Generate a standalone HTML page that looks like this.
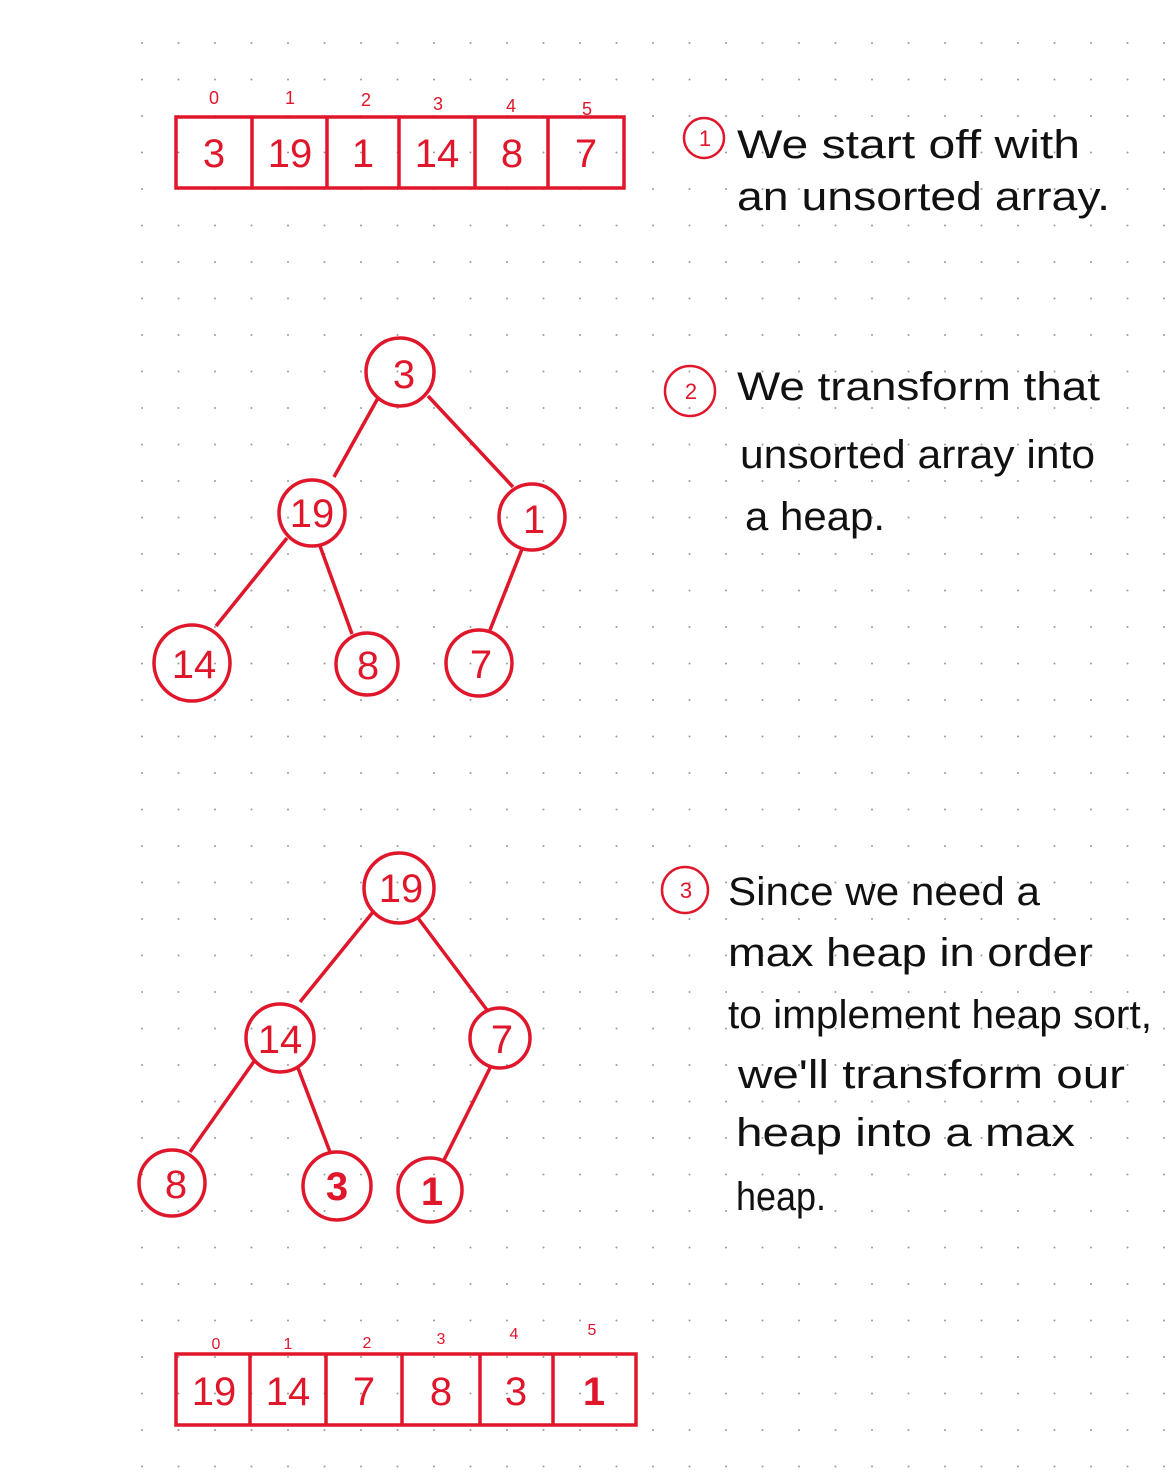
<!DOCTYPE html>
<html><head><meta charset="utf-8"><style>
html,body{margin:0;padding:0;background:#fff;}
svg{display:block;}
.h{font-family:"Liberation Sans",sans-serif;fill:#111;font-size:40px;}
.n{font-family:"Liberation Sans",sans-serif;fill:#e0162b;text-anchor:middle;}
</style></head><body>
<svg width="1170" height="1472" viewBox="0 0 1170 1472" xmlns="http://www.w3.org/2000/svg">
<defs><pattern id="d" x="141" y="42" width="36.5" height="36.5" patternUnits="userSpaceOnUse"><circle cx="1" cy="1" r="1" fill="#9a9a9a"/></pattern></defs>
<rect x="130" y="30" width="1040" height="1442" fill="url(#d)"/>
<g stroke="#e0162b" stroke-width="3.5" fill="none">
<rect x="176" y="117" width="448" height="71"/>
<path d="M252 117V188M327 117V188M399 117V188M475 117V188M548 117V188"/>
<rect x="176" y="1354" width="460" height="71"/>
<path d="M250 1354V1425M326 1354V1425M402 1354V1425M480 1354V1425M553 1354V1425"/>
<circle cx="400" cy="372" r="34"/><circle cx="312" cy="513" r="33"/><circle cx="532" cy="517" r="33"/>
<circle cx="192" cy="663" r="38"/><circle cx="367" cy="664" r="31"/><circle cx="479" cy="663" r="33"/>
<path d="M378 398L334 477M428 396L513 487M287 538L216 626M320 546L352 634M522 549L490 630"/>
<circle cx="399" cy="888" r="35"/><circle cx="280" cy="1038" r="34"/><circle cx="500" cy="1038" r="30"/>
<circle cx="172" cy="1183" r="33"/><circle cx="337" cy="1186" r="34"/><circle cx="430" cy="1190" r="32"/>
<path d="M373 912L300 1002M418 918L487 1010M255 1060L190 1152M298 1068L330 1152M490 1068L444 1160"/>
<circle cx="704" cy="138" r="20" stroke-width="2.5"/><circle cx="690" cy="391" r="25" stroke-width="2.5"/><circle cx="685" cy="890" r="23" stroke-width="2.5"/>
</g>
<g class="n" font-size="18"><text x="214" y="104">0</text><text x="290" y="104">1</text><text x="366" y="106">2</text><text x="438" y="110">3</text><text x="511" y="112">4</text><text x="587" y="115">5</text></g>
<g class="n" font-size="16"><text x="216" y="1349">0</text><text x="288" y="1349">1</text><text x="367" y="1348">2</text><text x="441" y="1344">3</text><text x="514" y="1339">4</text><text x="592" y="1335">5</text></g>
<g class="n" font-size="40">
<text x="214" y="167">3</text><text x="290" y="167">19</text><text x="363" y="167">1</text><text x="437" y="167">14</text><text x="512" y="167">8</text><text x="586" y="167">7</text>
<text x="214" y="1405">19</text><text x="288" y="1405">14</text><text x="364" y="1405">7</text><text x="441" y="1405">8</text><text x="516" y="1405">3</text><text x="594" y="1405" font-weight="bold">1</text>
<text x="404" y="388">3</text><text x="312" y="527">19</text><text x="534" y="533">1</text><text x="194" y="678">14</text><text x="368" y="679">8</text><text x="481" y="678">7</text>
<text x="401" y="902">19</text><text x="280" y="1053">14</text><text x="502" y="1053">7</text><text x="176" y="1198">8</text><text x="337" y="1200" font-weight="bold">3</text><text x="432" y="1205" font-weight="bold">1</text>
</g>
<g class="n" font-size="22"><text x="705" y="146">1</text><text x="691" y="399">2</text><text x="686" y="898">3</text></g>
<g class="h">
<text x="737" y="158" textLength="343" lengthAdjust="spacingAndGlyphs">We start off with</text>
<text x="737" y="210" textLength="373" lengthAdjust="spacingAndGlyphs">an unsorted array.</text>
<text x="737" y="400" textLength="363" lengthAdjust="spacingAndGlyphs">We transform that</text>
<text x="740" y="468" textLength="355" lengthAdjust="spacingAndGlyphs">unsorted array into</text>
<text x="745" y="530" textLength="140" lengthAdjust="spacingAndGlyphs">a heap.</text>
<text x="728" y="905" textLength="312" lengthAdjust="spacingAndGlyphs">Since we need a</text>
<text x="728" y="966" textLength="365" lengthAdjust="spacingAndGlyphs">max heap in order</text>
<text x="728" y="1028" textLength="424" lengthAdjust="spacingAndGlyphs">to implement heap sort,</text>
<text x="738" y="1088" textLength="387" lengthAdjust="spacingAndGlyphs">we'll transform our</text>
<text x="736" y="1146" textLength="339" lengthAdjust="spacingAndGlyphs">heap into a max</text>
<text x="736" y="1210" textLength="90" lengthAdjust="spacingAndGlyphs">heap.</text>
</g>
</svg>
</body></html>
